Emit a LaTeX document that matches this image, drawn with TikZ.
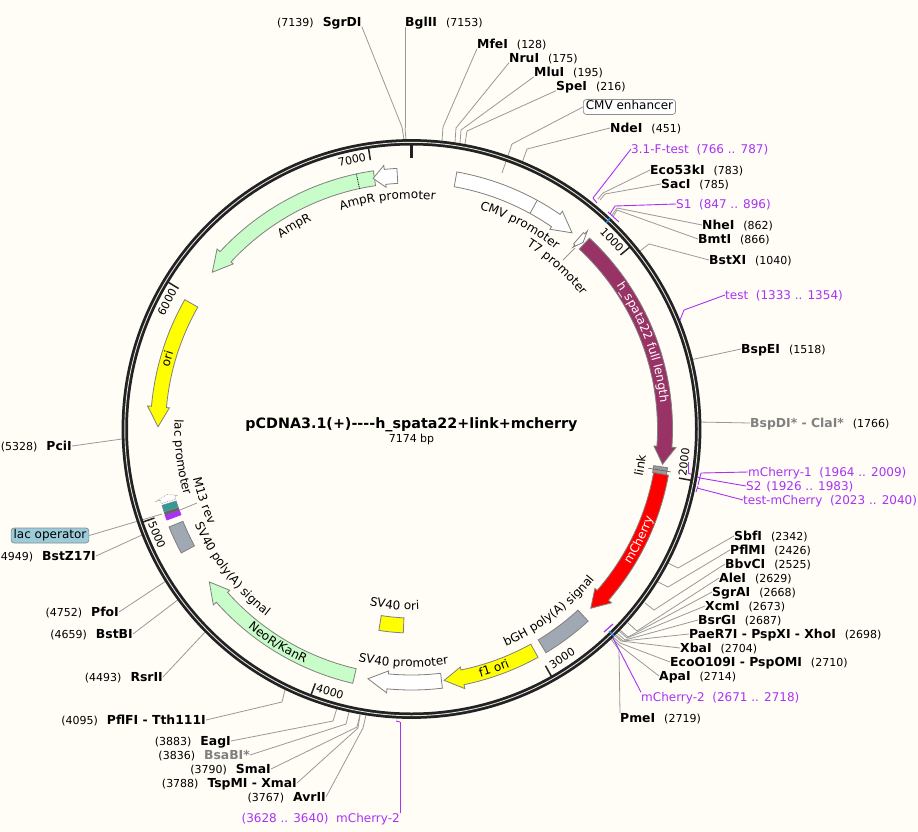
\documentclass[tikz,border=0pt]{standalone}
\usepackage{fontspec}
\setmainfont{DejaVu Sans}
\usepackage{xcolor}
\usepackage{tikz}
\usetikzlibrary{decorations.text}

\definecolor{paper}{HTML}{FFFDF6}
\definecolor{ringc}{HTML}{222222}
\definecolor{sitec}{HTML}{999999}
\definecolor{primerc}{HTML}{A833F5}
\definecolor{nickc}{HTML}{1E90FF}
\definecolor{greenc}{HTML}{C8FCC8}
\definecolor{yellowc}{HTML}{FFFF00}
\definecolor{spatac}{HTML}{993366}
\definecolor{greyc}{HTML}{A0A8B4}
\definecolor{operc}{HTML}{9CCBDA}

\newcommand{\lblfont}{\fontsize{12}{14}\selectfont}
\newcommand{\numfont}{\fontsize{11}{13}\selectfont}
\newcommand{\sitename}[1]{{\fontsize{12.4}{14}\selectfont\bfseries #1}}
\newcommand{\gap}{\hspace{9pt}}

\tikzset{
	x=1pt,y=-1pt,
	site/.style={inner ysep=0pt,inner xsep=0pt,font=\numfont,text height=9pt,text depth=0pt},
	primer/.style={site,font=\lblfont,text=primerc},
	boxed/.style={site,font=\lblfont,draw=black!45,rounded corners=3pt,inner xsep=2.5pt,inner ysep=1.5pt,text depth=3pt,line width=.7pt},
	ticklabel/.style={inner sep=0pt,font=\numfont},
	siteline/.style={color=sitec,line width=.8pt},
	primerline/.style={color=primerc,line width=.9pt},
	feat/.style={draw=black!50,line width=.8pt},
	ticks/.style={color=ringc,line width=1.5pt},
}

% bar on a track: style, from, to, r in, r out (degrees clockwise from the top)
\newcommand{\barfeat}[5]{\draw[feat,#1] ({90-#2}:#4pt) arc[start angle={90-#2},end angle={90-#3},radius=#4pt] -- ({90-#3}:#5pt) arc[start angle={90-#3},end angle={90-#2},radius=#5pt] -- cycle;}
% arrow on the main track: style, from, shoulder, tip
\newcommand{\arrowfeat}[4]{\draw[feat,#1] ({90-#2}:246pt) arc[start angle={90-#2},end angle={90-#3},radius=246pt] -- ({90-#3}:243pt) -- ({90-#4}:253.5pt) -- ({90-#3}:265pt) -- ({90-#3}:261pt) arc[start angle={90-#3},end angle={90-#2},radius=261pt] -- cycle;}
% text along an arc: colour, text, from, to, baseline radius
\newcommand{\arctext}[5][black]{\path[decorate,decoration={text along path,text color=#1,text align=center,text={|\lblfont|#2}}] ({90-#3}:#5pt) arc[start angle={90-#3},end angle={90-#4},radius=#5pt];}

\begin{document}
\begin{tikzpicture}
	\fill[paper] (0,0) rectangle (918,832);
	\useasboundingbox (0,0) rectangle (918,832);
	\coordinate (Orig) at (411.5,429);
	% top sites
	\node[site,anchor=west] (SgrDI) at (277,22) {(7139)\gap\sitename{SgrDI}};
	\coordinate (SgrDI') at (402,127);
	\coordinate (SgrDI'') at (404,140);
	\node[site,anchor=west] (BglII) at (405,22) {\sitename{BglII}\gap(7153)};
	\coordinate (BglII') at (405,128);
	\coordinate (BglII'') at (406,140);
	\node[site,anchor=west] (MfeI) at (477,44) {\sitename{MfeI}\gap(128)};
	\coordinate (MfeI') at (443,127);
	\coordinate (MfeI'') at (442,141);
	\node[site,anchor=west] (NruI) at (509,58) {\sitename{NruI}\gap(175)};
	\coordinate (NruI') at (456,128);
	\coordinate (NruI'') at (455,142);
	\node[site,anchor=west] (MluI) at (534,72) {\sitename{MluI}\gap(195)};
	\coordinate (MluI') at (461,130);
	\coordinate (MluI'') at (460,143);
	\node[site,anchor=west] (SpeI) at (556,86) {\sitename{SpeI}\gap(216)};
	\coordinate (SpeI') at (467,131);
	\coordinate (SpeI'') at (465,144);
	\node[boxed,anchor=west,fill=white] (CMVenh) at (583,107) {CMV enhancer};
	\coordinate (CMVenh') at (512,144);
	\coordinate (CMVenh'') at (502,173);
	\node[site,anchor=west] (NdeI) at (610,128) {\sitename{NdeI}\gap(451)};
	\coordinate (NdeI') at (527,149);
	\coordinate (NdeI'') at (522,163);
	% upper right sites
	\node[primer,anchor=west] (FTest) at (631,149) {3.1-F-test\ \ (766 .. 787)};
	\coordinate (FTest') at (593,198);
	\coordinate (FTest'') at (597,203);
	\node[site,anchor=west] (Eco53kI) at (650,170) {\sitename{Eco53kI}\gap(783)};
	\coordinate (Eco53kI') at (603,193);
	\coordinate (Eco53kI'') at (598,199);
	\node[site,anchor=west] (SacI) at (661,184) {\sitename{SacI}\gap(785)};
	\coordinate (SacI') at (605,194);
	\coordinate (SacI'') at (600,200);
	\node[primer,anchor=west] (SOne) at (676,204) {S1\ \ (847 .. 896)};
	\coordinate (SOne') at (615,206);
	\coordinate (SOne'') at (610,214);
	\coordinate (SOne''') at (608,212);
	\coordinate (SOneEnd) at (619,222);
	\node[site,anchor=west] (NheI) at (702,225) {\sitename{NheI}\gap(862)};
	\coordinate (NheI') at (617,208);
	\coordinate (NheI'') at (612,215);
	\node[site,anchor=west] (BmtI) at (698,239) {\sitename{BmtI}\gap(866)};
	\coordinate (BmtI') at (617,210);
	\coordinate (BmtI'') at (613,217);
	\node[site,anchor=west] (BstXI) at (709,260) {\sitename{BstXI}\gap(1040)};
	\coordinate (BstXI') at (649,244);
	\coordinate (BstXI'') at (640,251);
	\node[primer,anchor=west] (TestP) at (725,295) {test\ \ (1333 .. 1354)};
	\coordinate (TestP') at (684,310);
	\coordinate (TestP'') at (680,320);
	\node[site,anchor=west] (BspEI) at (741,349) {\sitename{BspEI}\gap(1518)};
	\coordinate (BspEI') at (690,360);
	\node[site,anchor=west] (BspDI) at (750,423) {\sitename{\textcolor{gray}{BspDI* - ClaI*}}\gap(1766)};
	\coordinate (BspDI') at (698,422);
	% primers at 2000
	\node[primer,anchor=west] (CherryA) at (748,472) {mCherry-1\ \ (1964 .. 2009)};
	\coordinate (CherryA') at (701,473);
	\coordinate (CherryA'') at (698,485);
	\node[primer,anchor=west] (STwo) at (746,486) {S2\hspace{5pt}(1926 .. 1983)};
	\coordinate (STwo') at (700,478);
	\coordinate (STwo'') at (688,473);
	\coordinate (STwo''') at (688,462);
	\node[primer,anchor=west] (TestC) at (743,500) {test-mCherry\ \ (2023 .. 2040)};
	\coordinate (TestC') at (697,488);
	\coordinate (TestC'') at (698,486);
	\coordinate (TestC''') at (696,492);
	% lower right sites
	\node[site,anchor=west] (SbfI) at (734,536) {\sitename{SbfI}\gap(2342)};
	\coordinate (SbfI') at (678,568);
	\coordinate (SbfI'') at (668,563);
	\node[site,anchor=west] (PflMI) at (730,550) {\sitename{PflMI}\gap(2426)};
	\coordinate (PflMI') at (668,587);
	\coordinate (PflMI'') at (658,582);
	\node[site,anchor=west] (BbvCI) at (725,564) {\sitename{BbvCI}\gap(2525)};
	\coordinate (BbvCI') at (654,610);
	\coordinate (BbvCI'') at (645,603);
	\node[site,anchor=west] (AleI) at (719,578) {\sitename{AleI}\gap(2629)};
	\coordinate (AleI') at (637,631);
	\coordinate (AleI'') at (628,623);
	\node[site,anchor=west] (SgrAI) at (712,592) {\sitename{SgrAI}\gap(2668)};
	\coordinate (SgrAI') at (628,637);
	\coordinate (SgrAI'') at (620,630);
	\node[site,anchor=west] (XcmI) at (705,606) {\sitename{XcmI}\gap(2673)};
	\coordinate (XcmI') at (627,638);
	\coordinate (XcmI'') at (619,631);
	\node[site,anchor=west] (BsrGI) at (698,620) {\sitename{BsrGI}\gap(2687)};
	\coordinate (BsrGI') at (625,640);
	\coordinate (BsrGI'') at (617,633);
	\node[site,anchor=west] (PaeR) at (689,634) {\sitename{PaeR7I - PspXI - XhoI}\gap(2698)};
	\coordinate (PaeR') at (623,641);
	\coordinate (PaeR'') at (616,635);
	\node[site,anchor=west] (XbaI) at (680,648) {\sitename{XbaI}\gap(2704)};
	\coordinate (XbaI') at (621,641);
	\coordinate (XbaI'') at (614,635);
	\node[site,anchor=west] (EcoO) at (670,662) {\sitename{EcoO109I - PspOMI}\gap(2710)};
	\coordinate (EcoO') at (620,643);
	\coordinate (EcoO'') at (613,637);
	\node[site,anchor=west] (ApaI) at (659,676) {\sitename{ApaI}\gap(2714)};
	\coordinate (ApaI') at (619,645);
	\coordinate (ApaI'') at (612,638);
	\node[primer,anchor=west] (CherryB) at (641,697) {mCherry-2\ \ (2671 .. 2718)};
	\coordinate (CherryB') at (612,636);
	\node[site,anchor=west] (PmeI) at (620,718) {\sitename{PmeI}\gap(2719)};
	\coordinate (PmeI') at (619,650);
	\coordinate (PmeI'') at (611,639);
	% left sites
	\node[site,anchor=east] (PciI) at (72,446) {(5328)\gap\sitename{PciI}};
	\coordinate (PciI') at (122,439);
	\node[boxed,anchor=center,fill=operc] (LacOp) at (50,535.5) {lac operator};
	\coordinate (LacOp') at (162,514);
	\node[site,anchor=east] (BstZ) at (96,556) {(4949)\gap\sitename{BstZ17I}};
	\coordinate (BstZ') at (142,535);
	\node[site,anchor=east] (PfoI) at (119,612) {(4752)\gap\sitename{PfoI}};
	\coordinate (PfoI') at (166,581);
	\node[site,anchor=east] (BstBI) at (133,634) {(4659)\gap\sitename{BstBI}};
	\coordinate (BstBI') at (179,599);
	\node[site,anchor=east] (RsrII) at (163,677) {(4493)\gap\sitename{RsrII}};
	\coordinate (RsrII') at (206,631);
	% lower left sites
	\node[site,anchor=east] (PflFI) at (206,720) {(4095)\gap\sitename{PflFI - Tth111I}};
	\coordinate (PflFI') at (282,702);
	\coordinate (PflFI'') at (285,690);
	\node[site,anchor=east] (EagI) at (231,741) {(3883)\gap\sitename{EagI}};
	\coordinate (EagI') at (333,721);
	\coordinate (EagI'') at (337,708);
	\node[site,anchor=east] (BsaBI) at (250,755) {(3836)\gap\sitename{\textcolor{gray}{BsaBI*}}};
	\coordinate (BsaBI') at (346,724);
	\coordinate (BsaBI'') at (349,712);
	\node[site,anchor=east] (SmaI) at (271,769) {(3790)\gap\sitename{SmaI}};
	\coordinate (SmaI') at (357,727);
	\coordinate (SmaI'') at (360,715);
	\node[site,anchor=east] (TspMI) at (297,783) {(3788)\gap\sitename{TspMI - XmaI}};
	\coordinate (TspMI') at (358,728);
	\node[site,anchor=east] (AvrII) at (326,797) {(3767)\gap\sitename{AvrII}};
	\coordinate (AvrII') at (363,728);
	\coordinate (AvrII'') at (366,715);
	\node[primer,anchor=east] (CherryC) at (400,818) {(3628 .. 3640)\ \ mCherry-2};
	\coordinate (CherryC') at (400,722);
	\coordinate (CherryC'') at (396,721);
	% features' own thin lines
	\coordinate (Mrev') at (180,510);
	\coordinate (Mrev'') at (197,503);
	\coordinate (Tseven') at (575,248);
	\coordinate (Tseven'') at (563,260);
	%
	\path[siteline]
	% top
	(SgrDI.south east) edge (SgrDI') (SgrDI') edge (SgrDI'')
	(BglII.south west) edge (BglII') (BglII') edge (BglII'')
	(MfeI.south west) edge (MfeI') (MfeI') edge (MfeI'')
	(NruI.south west) edge (NruI') (NruI') edge (NruI'')
	(MluI.south west) edge (MluI') (MluI') edge (MluI'')
	(SpeI.south west) edge (SpeI') (SpeI') edge (SpeI'')
	(CMVenh.west) edge (CMVenh') (CMVenh') edge (CMVenh'')
	(NdeI.west) edge (NdeI') (NdeI') edge (NdeI'')
	% right
	(Eco53kI.west) edge (Eco53kI') (Eco53kI') edge (Eco53kI'')
	(SacI.west) edge (SacI') (SacI') edge (SacI'')
	(NheI.west) edge (NheI') (NheI') edge (NheI'')
	(BmtI.west) edge (BmtI') (BmtI') edge (BmtI'')
	(BstXI.west) edge (BstXI') (BstXI') edge (BstXI'')
	(BspEI.west) edge (BspEI')
	(BspDI.west) edge (BspDI')
	(SbfI.west) edge (SbfI') (SbfI') edge (SbfI'')
	(PflMI.west) edge (PflMI') (PflMI') edge (PflMI'')
	(BbvCI.west) edge (BbvCI') (BbvCI') edge (BbvCI'')
	(AleI.west) edge (AleI') (AleI') edge (AleI'')
	(SgrAI.west) edge (SgrAI') (SgrAI') edge (SgrAI'')
	(XcmI.west) edge (XcmI') (XcmI') edge (XcmI'')
	(BsrGI.west) edge (BsrGI') (BsrGI') edge (BsrGI'')
	(PaeR.west) edge (PaeR') (PaeR') edge (PaeR'')
	(XbaI.west) edge (XbaI') (XbaI') edge (XbaI'')
	(EcoO.west) edge (EcoO') (EcoO') edge (EcoO'')
	(ApaI.west) edge (ApaI') (ApaI') edge (ApaI'')
	(PmeI.north west) edge (PmeI') (PmeI') edge (PmeI'')
	% left
	(PciI.east) edge (PciI')
	(LacOp.east) edge (LacOp')
	(BstZ.east) edge (BstZ')
	(PfoI.east) edge (PfoI')
	(BstBI.east) edge (BstBI')
	(RsrII.east) edge (RsrII')
	(PflFI.east) edge (PflFI') (PflFI') edge (PflFI'')
	(EagI.east) edge (EagI') (EagI') edge (EagI'')
	(BsaBI.east) edge (BsaBI') (BsaBI') edge (BsaBI'')
	(SmaI.east) edge (SmaI') (SmaI') edge (SmaI'')
	(TspMI.east) edge (TspMI') (TspMI') edge (SmaI'')
	(AvrII.east) edge (AvrII') (AvrII') edge (AvrII'')
	(Mrev') edge (Mrev'')
	(Tseven') edge (Tseven'');
	%
	\path[primerline]
	(FTest.west) edge (FTest') (FTest') edge (FTest'')
	(SOne.west) edge (SOne') (SOne') edge (SOne'') (SOne''') edge (SOneEnd)
	(TestP.west) edge (TestP') (TestP') edge (TestP'')
	(CherryA.west) edge (CherryA') (CherryA') edge (CherryA'')
	(STwo.west) edge (STwo') (STwo') edge (STwo'') (STwo'') edge (STwo''')
	(TestC.west) edge (TestC') (TestC'') edge (TestC''')
	(CherryB.north west) edge (CherryB')
	(CherryC.north east) edge (CherryC') (CherryC') edge (CherryC'');
	% the ring
	\node[circle,draw=ringc,line width=6.4pt,minimum size=573.4pt,inner sep=0pt] (Ring) at (Orig) {};
	\node[circle,draw=paper!60!gray!60!white,line width=.9pt,minimum size=573.4pt,inner sep=0pt] (RingIn) at (Orig) {};
	\draw[nickc,line width=1.2pt] (606,223) -- (610,218);
	\draw[nickc,line width=1.2pt] (609,631) -- (614,636);
	\draw[primerc,line width=1.2pt] (604,632) -- (613,624);
	\begin{scope}[shift={(Orig)}]
		% ticks
		\draw[ringc,line width=3pt] (90:271pt) -- (90:285pt);
		\draw[ticks] ({90-50.2}:272pt) -- ({90-50.2}:284pt);
		\draw[ticks] ({90-100.4}:272pt) -- ({90-100.4}:284pt);
		\draw[ticks] ({90-150.5}:272pt) -- ({90-150.5}:284pt);
		\draw[ticks] ({90-200.7}:272pt) -- ({90-200.7}:284pt);
		\draw[ticks] ({90-250.9}:272pt) -- ({90-250.9}:284pt);
		\draw[ticks] ({90-301.1}:272pt) -- ({90-301.1}:284pt);
		\draw[ticks] ({90-351.3}:272pt) -- ({90-351.3}:284pt);
		% features
		\arrowfeat{fill=white}{10}{34.7}{39.3}
		\draw[feat] ({90-28.8}:246pt) -- ({90-28.8}:261pt);
		\arrowfeat{fill=white}{41.2}{41.6}{42.6}
		\arrowfeat{fill=spatac}{43}{94}{98}
		\barfeat{fill=gray!80}{98.6}{100.2}{245}{259}
		\draw[black!60,line width=.7pt] ({90-99.4}:240pt) -- ({90-99.4}:263pt);
		\arrowfeat{fill=red}{100.2}{131}{135}
		\barfeat{fill=greyc}{137.4}{149}{246}{261}
		\arrowfeat{fill=yellowc}{151}{168.4}{172.6}
		\arrowfeat{fill=white}{173.2}{185.4}{189.9}
		\barfeat{fill=yellowc}{182.3}{189.2}{189}{204}
		\arrowfeat{fill=greenc}{193}{228.4}{232.9}
		\barfeat{fill=greyc}{241.7}{248}{246.5}{261.5}
		\barfeat{fill=primerc,draw=primerc}{249.6}{250.7}{246}{261}
		\barfeat{fill=black!60,draw=black!60,line width=.4pt}{250.8}{251.4}{246}{261}
		\barfeat{fill=teal!80,draw=black!50,line width=.4pt}{251.5}{253}{246}{261}
		\arrowfeat{fill=white,densely dotted,line width=.5pt}{253.4}{254.2}{255}
		\arrowfeat{fill=yellowc}{299.7}{275}{270.5}
		\arrowfeat{fill=greenc}{351.6}{312.8}{308.2}
		\draw[black,densely dotted,line width=.8pt] ({90-347.8}:246pt) -- ({90-347.8}:261pt);
		\arrowfeat{fill=white}{356.8}{354}{351.3}
		% labels along the arcs
		\arctext{CMV promoter}{-12}{68}{230}
		\arctext{T7 promoter}{2}{82}{216}
		\begingroup\catcode`\_=12
		\arctext[white]{h_spata22 full length}{29}{110}{250}
		\endgroup
		\arctext{link}{139}{59}{236}
		\arctext[white]{mCherry}{156}{76}{257.5}
		\arctext{bGH poly(A) signal}{183}{103}{237}
		\arctext{f1 ori}{201}{121}{257.5}
		\arctext{SV40 promoter}{222}{142}{238}
		\arctext{SV40 ori}{225.5}{145.5}{181}
		\arctext{NeoR/KanR}{252}{172}{257.5}
		\arctext{SV40 poly(A) signal}{272}{192}{237}
		\arctext{M13 rev}{291}{211}{224}
		\arctext{lac promoter}{303}{223}{237}
		\arctext{ori}{246}{326}{250}
		\arctext{AmpR}{290}{370}{231}
		\arctext{AmpR promoter}{314}{394}{230}
	\end{scope}
	% tick labels
	\node[ticklabel,rotate=-46.7] (TA) at (612,240) {1000};
	\node[ticklabel,rotate=83] (TB) at (684,462) {2000};
	\node[ticklabel,rotate=33.3] (TC) at (562,658) {3000};
	\node[ticklabel,rotate=-17.2] (TD) at (330,692) {4000};
	\node[ticklabel,rotate=-67.4] (TE) at (157,535) {5000};
	\node[ticklabel,rotate=62.6] (TF) at (167,302) {6000};
	\node[ticklabel,rotate=12.5] (TG) at (352,160) {7000};
	% centre
	\node[inner sep=0pt,font=\fontsize{14.3}{16}\selectfont\bfseries] (Title) at (411.5,425) {pCDNA3.1(+)-{}-{}-{}-h\_spata22+link+mcherry};
	\node[inner sep=0pt,font=\numfont] (Size) at (411.5,439) {7174 bp};
\end{tikzpicture}
\end{document}
